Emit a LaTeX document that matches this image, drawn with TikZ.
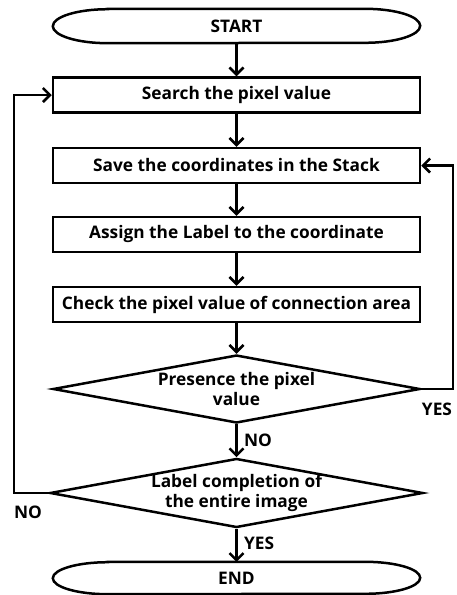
\documentclass[tikz,border=0pt]{standalone}
\usepackage{fontspec}
\setmainfont{Open Sans}
\usetikzlibrary{arrows.meta,shapes.geometric,calc}
\begin{document}
\begin{tikzpicture}[x=1pt,y=1pt,
  lw/.style={line width=2.5pt},
  txt/.style={font=\fontsize{17.3}{20}\selectfont\bfseries},
  procbox/.style={lw,draw,rectangle,minimum width=367pt,minimum height=35pt,inner sep=0pt,txt},
  termbox/.style={rectangle,minimum width=367pt,minimum height=34pt,inner sep=0pt,txt},
  decbox/.style={lw,draw,diamond,shape aspect=5.4,minimum width=367pt,minimum height=68pt,inner sep=0pt,txt,align=center},
  flow/.style={lw,-{Straight Barb[length=7pt,width=14pt,line width=2.5pt]}},
  lab/.style={txt}
]
\useasboundingbox (0,0) rectangle (456,-595);
\node[termbox] (start) at (236.5,-26) {START};
\node[procbox] (b1) at (236.5,-95) {Search the pixel value};
\node[procbox] (b2) at (236.5,-165.5) {Save the coordinates in the Stack};
\node[procbox] (b3) at (236.5,-234.5) {Assign the Label to the coordinate};
\node[procbox] (b4) at (236.5,-304.5) {Check the pixel value of connection area};
\node[decbox] (d1) at (236.5,-389) {Presence the pixel\\value};
\node[decbox] (d2) at (236.5,-493) {Label completion of\\the entire image};
\node[termbox,minimum height=32pt] (end) at (236.5,-578) {END};
% terminator outlines
\foreach \n/\ry in {start/17,end/16}{
  \draw[lw] ($(\n.north west)+(55,0)$) -- ($(\n.north east)+(-55,0)$)
    arc[start angle=90,end angle=-90,x radius=55pt,y radius=\ry pt]
    -- ($(\n.south west)+(55,0)$)
    arc[start angle=270,end angle=90,x radius=55pt,y radius=\ry pt] -- cycle;
}
\coordinate (lx) at (14,0);
\coordinate (rx) at (453,0);
\draw[flow] (start) -- (b1);
\draw[flow] (b1) -- (b2);
\draw[flow] (b2) -- (b3);
\draw[flow] (b3) -- (b4);
\draw[flow] (b4) -- (d1);
\draw[flow] (d1) -- node[lab,right,pos=0.5,xshift=3pt]{NO} (d2);
\draw[flow] (d2) -- node[lab,right,pos=0.45,xshift=3pt]{YES} (end);
\draw[flow] (d1.east) -- (d1.east -| rx) -- (b2.east -| rx) -- (b2.east);
\draw[flow] (d2.west) -- (d2.west -| lx) -- (b1.west -| lx) -- (b1.west);
\node[lab] (yes1) at (437,-409) {YES};
\node[lab] (no2) at (28,-512) {NO};
\end{tikzpicture}
\end{document}
